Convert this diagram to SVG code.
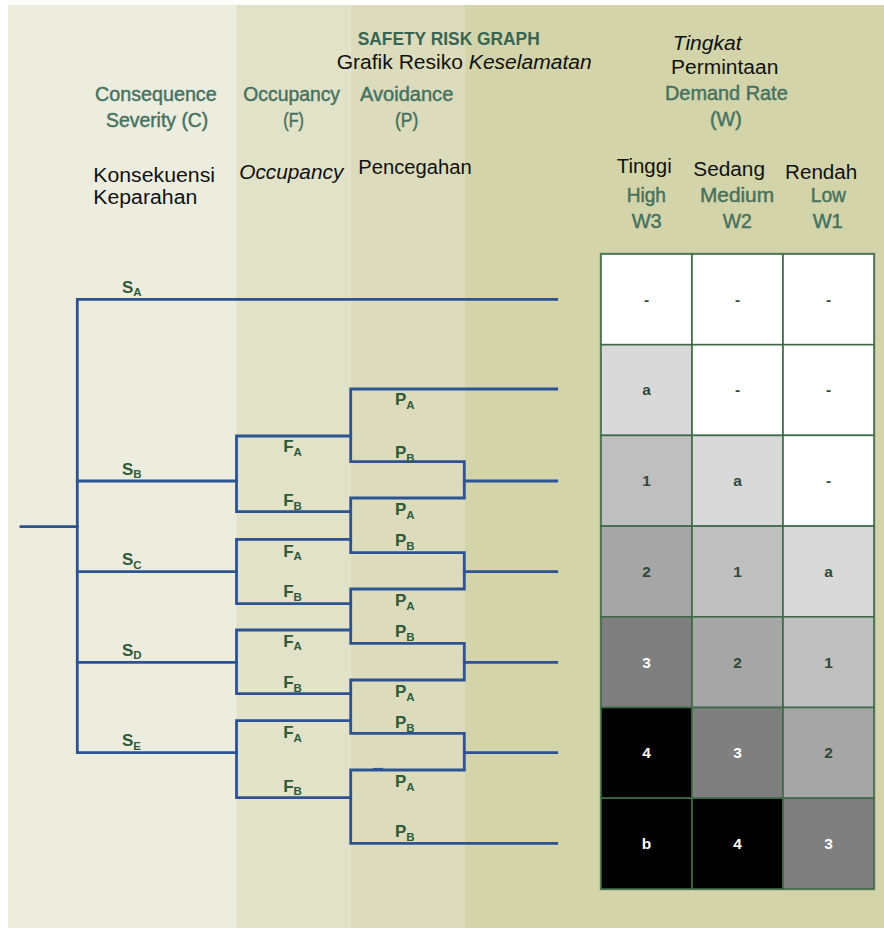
<svg xmlns="http://www.w3.org/2000/svg" width="884" height="928" viewBox="0 0 884 928">
  <style>
    .hdr { font-family: "Liberation Sans", Arial, sans-serif; font-size: 19.5px; fill: #47725F; stroke: #47725F; stroke-width: 0.45px; }
    .ttl { font-family: "Liberation Sans", Arial, sans-serif; font-size: 17.5px; font-weight: bold; fill: #376553; }
    .blk { font-family: "Liberation Sans", Arial, sans-serif; font-size: 20px; fill: #111111; }
    .it { font-style: italic; }
    .lbl { font-family: "Liberation Sans", Arial, sans-serif; font-size: 17px; font-weight: bold; fill: #2F5A3B; }
    .sub { font-size: 11.5px; }
    .wire { fill: none; stroke: #2D5392; stroke-width: 2.8; stroke-linejoin: miter; stroke-linecap: square; }
    .cell { stroke: #3E6A48; stroke-width: 1.6; }
    .val { font-family: "Liberation Sans", Arial, sans-serif; font-size: 15.5px; font-weight: bold; text-anchor: middle; fill: #2F4A3A; }
    .val.lt { fill: #FFFFFF; }
    .w0 { fill: #FFFFFF; }
    .w1 { fill: #D9D9D9; }
    .w2 { fill: #BFBFBF; }
    .w3 { fill: #A6A6A6; }
    .w4 { fill: #7F7F7F; }
    .w5 { fill: #000000; }
  </style>

  <!-- column bands -->
  <g id="background">
    <rect x="0" y="0" width="884" height="928" fill="#FFFFFF"/>
    <rect x="8" y="5" width="229" height="923" fill="#EDEDDF"/>
    <rect x="236.5" y="5" width="114" height="923" fill="#E2E2C9"/>
    <rect x="350.5" y="5" width="114" height="923" fill="#DCDCBC"/>
    <rect x="464.3" y="5" width="419.7" height="923" fill="#D3D4AA"/>
  </g>

  <!-- headings -->
  <g id="title">
    <text class="ttl" x="357.7" y="45" textLength="182" lengthAdjust="spacingAndGlyphs">SAFETY RISK GRAPH</text>
    <text class="blk" x="336.7" y="68.5" textLength="255" lengthAdjust="spacingAndGlyphs" style="font-size:20.5px">Grafik Resiko <tspan class="it">Keselamatan</tspan></text>
  </g>
  <g id="head-severity">
    <text class="hdr" x="95" y="100.7" textLength="121.7" lengthAdjust="spacingAndGlyphs">Consequence</text>
    <text class="hdr" x="106" y="126.7" textLength="102.3" lengthAdjust="spacingAndGlyphs">Severity (C)</text>
    <text class="blk" x="93.3" y="181.7" textLength="121.7" lengthAdjust="spacingAndGlyphs">Konsekuensi</text>
    <text class="blk" x="93.3" y="204" textLength="104" lengthAdjust="spacingAndGlyphs">Keparahan</text>
  </g>
  <g id="head-occupancy">
    <text class="hdr" x="243.3" y="100.7" textLength="96.7" lengthAdjust="spacingAndGlyphs">Occupancy</text>
    <text class="hdr" x="283.3" y="126.7" textLength="20.7" lengthAdjust="spacingAndGlyphs">(F)</text>
    <text class="blk it" x="239.3" y="179.3" textLength="104" lengthAdjust="spacingAndGlyphs">Occupancy</text>
  </g>
  <g id="head-avoidance">
    <text class="hdr" x="360" y="100.7" textLength="93.3" lengthAdjust="spacingAndGlyphs">Avoidance</text>
    <text class="hdr" x="395" y="126.7" textLength="23.3" lengthAdjust="spacingAndGlyphs">(P)</text>
    <text class="blk" x="358.3" y="174" textLength="113.4" lengthAdjust="spacingAndGlyphs">Pencegahan</text>
  </g>
  <g id="head-demand">
    <text class="blk it" x="672.7" y="50" textLength="69" lengthAdjust="spacingAndGlyphs">Tingkat</text>
    <text class="blk" x="671" y="74.3" textLength="107.3" lengthAdjust="spacingAndGlyphs">Permintaan</text>
    <text class="hdr" x="665" y="100" textLength="122.7" lengthAdjust="spacingAndGlyphs">Demand Rate</text>
    <text class="hdr" x="710" y="126.3" textLength="31.7" lengthAdjust="spacingAndGlyphs">(W)</text>
  </g>
  <g id="head-w3">
    <text class="blk" x="616.7" y="172.7" textLength="55" lengthAdjust="spacingAndGlyphs">Tinggi</text>
    <text class="hdr" x="626.7" y="201.7" textLength="39.3" lengthAdjust="spacingAndGlyphs">High</text>
    <text class="hdr" x="631.7" y="228.3" textLength="30" lengthAdjust="spacingAndGlyphs">W3</text>
  </g>
  <g id="head-w2">
    <text class="blk" x="693.3" y="175.7" textLength="71.7" lengthAdjust="spacingAndGlyphs">Sedang</text>
    <text class="hdr" x="700" y="201.7" textLength="74" lengthAdjust="spacingAndGlyphs">Medium</text>
    <text class="hdr" x="722.7" y="228.3" textLength="29" lengthAdjust="spacingAndGlyphs">W2</text>
  </g>
  <g id="head-w1">
    <text class="blk" x="785" y="179.3" textLength="72.3" lengthAdjust="spacingAndGlyphs">Rendah</text>
    <text class="hdr" x="810.7" y="201.7" textLength="35.3" lengthAdjust="spacingAndGlyphs">Low</text>
    <text class="hdr" x="812.7" y="228.3" textLength="30" lengthAdjust="spacingAndGlyphs">W1</text>
  </g>

  <!-- decision tree wiring -->
  <g id="connectors">
    <path class="wire" d="M21,526.7 H77.3"/>
    <path class="wire" d="M556.7,299.3 H77.3 V752.7 H236.5"/>
    <path class="wire" d="M77.3,481 H236.5"/>
    <path class="wire" d="M77.3,571.7 H236.5"/>
    <path class="wire" d="M77.3,662.3 H236.5"/>
    <path class="wire" d="M350.7,436 H236.5 V511.7 H350.7"/>
    <path class="wire" d="M350.7,539.3 H236.5 V603.7 H350.7"/>
    <path class="wire" d="M350.7,630 H236.5 V693.7 H350.7"/>
    <path class="wire" d="M350.7,720.7 H236.5 V797.7 H350.7"/>
    <path class="wire" d="M556.7,389 H350.7 V461.7 H464.3 V498 H350.7 V552.7 H464.3 V589 H350.7 V643.3 H464.3 V680 H350.7 V733.3 H464.3 V770 H350.7 V843.3 H556.7"/>
    <path class="wire" d="M464.3,481 H556.7"/>
    <path class="wire" d="M464.3,571.7 H556.7"/>
    <path class="wire" d="M464.3,662.3 H556.7"/>
    <path class="wire" d="M464.3,752.7 H556.7"/>
    <path d="M373,769 H383" stroke="#2D5392" stroke-width="2.2"/>
  </g>

  <!-- branch labels -->
  <g id="severity-labels">
    <text class="lbl" x="122" y="292.7">S<tspan class="sub" dy="3.5">A</tspan></text>
    <text class="lbl" x="122" y="474.5">S<tspan class="sub" dy="3.5">B</tspan></text>
    <text class="lbl" x="122" y="565.2">S<tspan class="sub" dy="3.5">C</tspan></text>
    <text class="lbl" x="122" y="655.8">S<tspan class="sub" dy="3.5">D</tspan></text>
    <text class="lbl" x="122" y="746.2">S<tspan class="sub" dy="3.5">E</tspan></text>
  </g>
  <g id="occupancy-labels">
    <text class="lbl" x="283.2" y="452">F<tspan class="sub" dy="3.5">A</tspan></text>
    <text class="lbl" x="283.2" y="506.2">F<tspan class="sub" dy="3.5">B</tspan></text>
    <text class="lbl" x="283.2" y="556.5">F<tspan class="sub" dy="3.5">A</tspan></text>
    <text class="lbl" x="283.2" y="597">F<tspan class="sub" dy="3.5">B</tspan></text>
    <text class="lbl" x="283.2" y="646.7">F<tspan class="sub" dy="3.5">A</tspan></text>
    <text class="lbl" x="283.2" y="688">F<tspan class="sub" dy="3.5">B</tspan></text>
    <text class="lbl" x="283.2" y="738">F<tspan class="sub" dy="3.5">A</tspan></text>
    <text class="lbl" x="283.2" y="791.7">F<tspan class="sub" dy="3.5">B</tspan></text>
  </g>
  <g id="avoidance-labels">
    <text class="lbl" x="395" y="405">P<tspan class="sub" dy="4">A</tspan></text>
    <text class="lbl" x="395" y="458.3">P<tspan class="sub" dy="4">B</tspan></text>
    <text class="lbl" x="395" y="514.5">P<tspan class="sub" dy="4">A</tspan></text>
    <text class="lbl" x="395" y="546.3">P<tspan class="sub" dy="4">B</tspan></text>
    <text class="lbl" x="395" y="606">P<tspan class="sub" dy="4">A</tspan></text>
    <text class="lbl" x="395" y="637">P<tspan class="sub" dy="4">B</tspan></text>
    <text class="lbl" x="395" y="696.7">P<tspan class="sub" dy="4">A</tspan></text>
    <text class="lbl" x="395" y="727.7">P<tspan class="sub" dy="4">B</tspan></text>
    <text class="lbl" x="395" y="786.7">P<tspan class="sub" dy="4">A</tspan></text>
    <text class="lbl" x="395" y="836.7">P<tspan class="sub" dy="4">B</tspan></text>
  </g>

  <!-- demand-rate outcome matrix -->
  <g id="matrix">
    <rect x="601" y="254" width="273" height="635" fill="none" stroke="#6E8C6A" stroke-width="3" opacity="0.5"/>
    <g id="cell-r1c1"><rect class="cell w0" x="601" y="254" width="91" height="90.7"/><text class="val" x="646.5" y="304.5">-</text></g>
    <g id="cell-r1c2"><rect class="cell w0" x="692" y="254" width="91" height="90.7"/><text class="val" x="737.5" y="304.5">-</text></g>
    <g id="cell-r1c3"><rect class="cell w0" x="783" y="254" width="91" height="90.7"/><text class="val" x="828.5" y="304.5">-</text></g>

    <g id="cell-r2c1"><rect class="cell w1" x="601" y="344.7" width="91" height="90.7"/><text class="val" x="646.5" y="395.2">a</text></g>
    <g id="cell-r2c2"><rect class="cell w0" x="692" y="344.7" width="91" height="90.7"/><text class="val" x="737.5" y="395.2">-</text></g>
    <g id="cell-r2c3"><rect class="cell w0" x="783" y="344.7" width="91" height="90.7"/><text class="val" x="828.5" y="395.2">-</text></g>

    <g id="cell-r3c1"><rect class="cell w2" x="601" y="435.4" width="91" height="90.7"/><text class="val" x="646.5" y="486.2">1</text></g>
    <g id="cell-r3c2"><rect class="cell w1" x="692" y="435.4" width="91" height="90.7"/><text class="val" x="737.5" y="486.2">a</text></g>
    <g id="cell-r3c3"><rect class="cell w0" x="783" y="435.4" width="91" height="90.7"/><text class="val" x="828.5" y="486.2">-</text></g>

    <g id="cell-r4c1"><rect class="cell w3" x="601" y="526.1" width="91" height="90.7"/><text class="val" x="646.5" y="576.9">2</text></g>
    <g id="cell-r4c2"><rect class="cell w2" x="692" y="526.1" width="91" height="90.7"/><text class="val" x="737.5" y="576.9">1</text></g>
    <g id="cell-r4c3"><rect class="cell w1" x="783" y="526.1" width="91" height="90.7"/><text class="val" x="828.5" y="576.9">a</text></g>

    <g id="cell-r5c1"><rect class="cell w4" x="601" y="616.8" width="91" height="90.7"/><text class="val lt" x="646.5" y="667.6">3</text></g>
    <g id="cell-r5c2"><rect class="cell w3" x="692" y="616.8" width="91" height="90.7"/><text class="val" x="737.5" y="667.6">2</text></g>
    <g id="cell-r5c3"><rect class="cell w2" x="783" y="616.8" width="91" height="90.7"/><text class="val" x="828.5" y="667.6">1</text></g>

    <g id="cell-r6c1"><rect class="cell w5" x="601" y="707.5" width="91" height="90.7"/><text class="val lt" x="646.5" y="758.3">4</text></g>
    <g id="cell-r6c2"><rect class="cell w4" x="692" y="707.5" width="91" height="90.7"/><text class="val lt" x="737.5" y="758.3">3</text></g>
    <g id="cell-r6c3"><rect class="cell w3" x="783" y="707.5" width="91" height="90.7"/><text class="val" x="828.5" y="758.3">2</text></g>

    <g id="cell-r7c1"><rect class="cell w5" x="601" y="798.2" width="91" height="90.8"/><text class="val lt" x="646.5" y="849">b</text></g>
    <g id="cell-r7c2"><rect class="cell w5" x="692" y="798.2" width="91" height="90.8"/><text class="val lt" x="737.5" y="849">4</text></g>
    <g id="cell-r7c3"><rect class="cell w4" x="783" y="798.2" width="91" height="90.8"/><text class="val lt" x="828.5" y="849">3</text></g>
  </g>
</svg>
